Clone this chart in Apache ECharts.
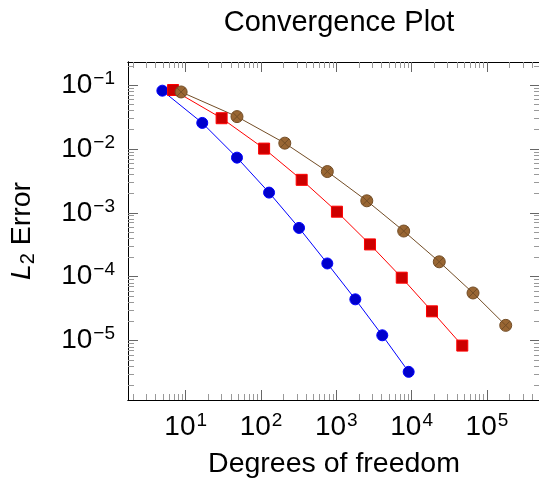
<!DOCTYPE html>
<html>
<head>
<meta charset="utf-8">
<script src="https://cdn.jsdelivr.net/npm/echarts@6/dist/echarts.min.js"></script>
<style>
  html, body { margin: 0; padding: 0; background: #fff; }
  #chart { width: 539px; height: 483px; }
</style>
</head>
<body>
<div id="chart"></div>
<script>
// degrees of freedom / L2 error, three refinement series
var dofBlue = [4.9, 16.6, 48, 128, 320, 760, 1790, 4080, 9140];
var errBlue = [0.0815, 0.0255, 0.0073, 0.00207, 5.8e-4, 1.61e-4, 4.42e-5, 1.21e-5, 3.24e-6];

var dofRed = [6.8, 30, 110, 347, 1020, 2800, 7400, 18650, 47100];
var errRed = [0.0835, 0.0302, 0.0101, 0.00328, 0.00104, 3.2e-4, 9.65e-5, 2.87e-5, 8.35e-6];

var dofBrown = [8.7, 48, 207, 760, 2540, 7850, 23300, 65400, 177800];
var errBrown = [0.0778, 0.032, 0.0123, 0.00442, 0.00154, 5.18e-4, 1.71e-4, 5.56e-5, 1.73e-5];

// decade tick labels (exponents)
var xDecades = [1, 2, 3, 4, 5];
var yDecades = [-5, -4, -3, -2, -1];

// axis limits in log10 units
var xLogMin = 0.234, xLogMax = 5.705;
var yLogMin = -5.93, yLogMax = -0.64;

var FONT = '"Liberation Sans", Arial, Helvetica, sans-serif';

function toPairs(xs, ys) {
	var out = [];
	for (var i = 0; i < xs.length; i++) {
		out.push([Math.log10(xs[i]), Math.log10(ys[i])]);
	}
	return out;
}

// minor ticks at 2..9 x 10^n
function minorTicks(lo, hi) {
	var t = [];
	for (var n = Math.floor(lo); n <= Math.ceil(hi); n++) {
		for (var k = 2; k <= 9; k++) {
			var v = n + Math.log10(k);
			if (v > lo && v < hi) t.push(v);
		}
	}
	return t;
}

function powLabel(v) {
	var e = Math.round(v);
	var s = e < 0 ? '\u2212' + (-e) : '' + e;
	return '{b|10}{s|' + s + '}';
}

var labelRich = {
	b: { fontFamily: FONT, fontSize: 28, color: '#000', lineHeight: 32 },
	s: { fontFamily: FONT, fontSize: 19, color: '#000', verticalAlign: 'top', lineHeight: 32, padding: [0, 0, 14, 1] }
};

var xMinor = minorTicks(xLogMin, xLogMax);
var yMinor = minorTicks(yLogMin, yLogMax);

function xAxisDef(pos, major, withLabel) {
	return {
		type: 'value',
		position: pos,
		min: xLogMin,
		max: xLogMax,
		axisLine: { show: true, onZero: false, lineStyle: { color: '#000', width: 1 } },
		axisTick: {
			show: true, inside: true,
			length: major ? 10 : 6,
			customValues: major ? xDecades : xMinor,
			lineStyle: { color: major ? '#666' : '#999', width: 1 }
		},
		axisLabel: {
			show: withLabel,
			customValues: xDecades,
			margin: 11,
			formatter: powLabel,
			rich: labelRich
		},
		splitLine: { show: false },
		name: withLabel ? 'Degrees of freedom' : '',
		nameLocation: 'middle',
		nameGap: 50,
		nameTextStyle: { fontFamily: FONT, fontSize: 28.5, color: '#000' }
	};
}

function yAxisDef(pos, major, withLabel) {
	return {
		type: 'value',
		position: pos,
		min: yLogMin,
		max: yLogMax,
		axisLine: { show: true, onZero: false, lineStyle: { color: '#000', width: 1 } },
		axisTick: {
			show: true, inside: true,
			length: major ? 10 : 6,
			customValues: major ? yDecades : yMinor,
			lineStyle: { color: major ? '#666' : '#999', width: 1 }
		},
		axisLabel: {
			show: withLabel,
			customValues: yDecades,
			margin: 13,
			formatter: powLabel,
			rich: labelRich
		},
		splitLine: { show: false },
		name: withLabel ? '{i|L}{sub|2}{t| Error}' : '',
		nameLocation: 'middle',
		nameGap: 90,
		nameRotate: 90,
		nameTextStyle: {
			rich: {
				i: { fontFamily: FONT, fontSize: 28.5, fontStyle: 'italic', color: '#000', lineHeight: 32 },
				sub: { fontFamily: FONT, fontSize: 20, color: '#000', verticalAlign: 'bottom', lineHeight: 32, padding: [10, 0, 0, 0] },
				t: { fontFamily: FONT, fontSize: 28.5, color: '#000', lineHeight: 32 }
			}
		}
	};
}

var otimes = 'path://M0,10A10,10 0 1,1 20,10A10,10 0 1,1 0,10Z' +
	'M2.93,2.93L17.07,17.07M17.07,2.93L2.93,17.07';

var chart = echarts.init(document.getElementById('chart'), null, { renderer: 'canvas' });
chart.setOption({
	animation: false,
	backgroundColor: '#fff',
	title: {
		text: 'Convergence Plot',
		left: 334,
		textAlign: 'center',
		top: 3,
		textStyle: { fontFamily: FONT, fontSize: 29, fontWeight: 'normal', color: '#000' }
	},
	grid: { left: 128, right: -1, top: 62, bottom: 83, containLabel: false, outerBoundsMode: 'none' },
	xAxis: [
		xAxisDef('bottom', true, true),
		xAxisDef('bottom', false, false),
		xAxisDef('top', true, false),
		xAxisDef('top', false, false)
	],
	yAxis: [
		yAxisDef('left', true, true),
		yAxisDef('left', false, false),
		yAxisDef('right', true, false),
		yAxisDef('right', false, false)
	],
	series: [
		{
			name: 'blue',
			type: 'line',
			data: toPairs(dofBlue, errBlue),
			symbol: 'circle',
			symbolSize: 11,
			lineStyle: { color: '#0000ff', width: 1 },
			itemStyle: { color: '#0000cc', borderColor: '#0000ff', borderWidth: 1 }
		},
		{
			name: 'red',
			type: 'line',
			data: toPairs(dofRed, errRed),
			symbol: 'rect',
			symbolSize: 11,
			lineStyle: { color: '#ff0000', width: 1 },
			itemStyle: { color: '#cc0000', borderColor: '#ff0000', borderWidth: 1 }
		},
		{
			name: 'brown',
			type: 'line',
			data: toPairs(dofBrown, errBrown),
			symbol: otimes,
			symbolSize: 12,
			lineStyle: { color: '#734d26', width: 1 },
			itemStyle: { color: '#996633', borderColor: '#734d26', borderWidth: 1 }
		}
	]
});
</script>
</body>
</html>
